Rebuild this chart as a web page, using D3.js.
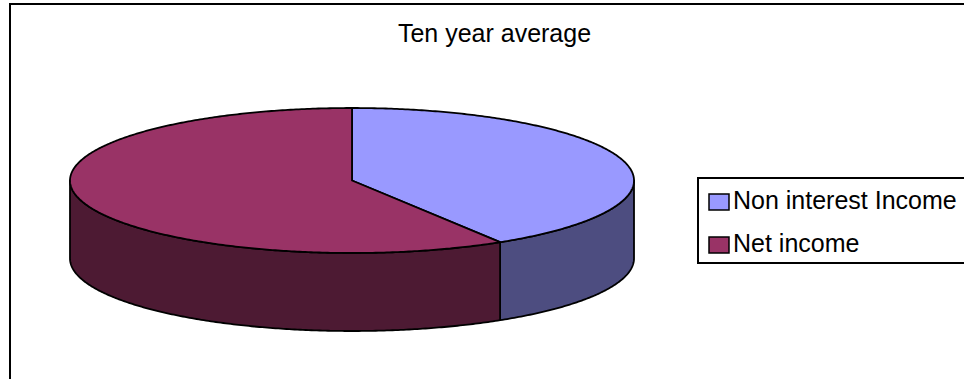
<!DOCTYPE html>
<html><head><meta charset="utf-8">
<script src="https://cdn.jsdelivr.net/npm/d3@7"></script>
<style>html,body{margin:0;padding:0;background:#fff;}svg{display:block;}</style>
</head><body>
<script>
const title = "Ten year average";
const categories = ["Non interest Income", "Net income"];
const values = [41.2, 58.8];
const topColors = ["#9999FF", "#993366"];
const sideColors = ["#4D4D80", "#4D1A33"];

const W = 964, H = 379;
const svg = d3.select("body").append("svg").attr("width", W).attr("height", H);
svg.append("rect").attr("width", W).attr("height", H).attr("fill", "#fff");

// outer frame (cropped at right/bottom)
svg.append("rect").attr("x", 10).attr("y", 4).attr("width", 1000).attr("height", 500)
  .attr("fill", "none").attr("stroke", "#000").attr("stroke-width", 2);

svg.append("text").attr("x", 494.5).attr("y", 42).attr("text-anchor", "middle")
  .attr("font-family", "Liberation Sans, Arial, sans-serif").attr("font-size", 25)
  .attr("fill", "#000").text(title);

const cx = 352, cy = 180.5, rx = 282, ry = 72.5, depth = 78;
const pie = d3.pie().sort(null).value(d => d)(values);
const pt = (a, dy = 0) => [cx + rx * Math.sin(a), cy - ry * Math.cos(a) + dy];
const line = d3.line();
const samples = (a0, a1) => {
  const n = Math.max(2, Math.ceil(Math.abs(a1 - a0) / 0.01));
  return d3.range(n + 1).map(i => a0 + (a1 - a0) * i / n);
};

const g = svg.append("g");
// side walls (visible front part: PI/2 .. 3PI/2)
pie.forEach((p, i) => {
  const a0 = Math.max(p.startAngle, Math.PI / 2);
  const a1 = Math.min(p.endAngle, 3 * Math.PI / 2);
  if (a1 <= a0) return;
  const s = samples(a0, a1);
  const pts = s.map(a => pt(a)).concat(s.slice().reverse().map(a => pt(a, depth)));
  g.append("path").attr("d", line(pts) + "Z")
    .attr("fill", sideColors[i]).attr("stroke", "#000").attr("stroke-width", 1.8)
    .attr("stroke-linejoin", "round");
});
// top faces
pie.forEach((p, i) => {
  const s = samples(p.startAngle, p.endAngle);
  const pts = [[cx, cy]].concat(s.map(a => pt(a)));
  g.append("path").attr("d", line(pts) + "Z")
    .attr("fill", topColors[i]).attr("stroke", "#000").attr("stroke-width", 1.8)
    .attr("stroke-linejoin", "round");
});

// legend
const lg = svg.append("g");
lg.append("rect").attr("x", 698).attr("y", 178).attr("width", 400).attr("height", 85)
  .attr("fill", "#fff").attr("stroke", "#000").attr("stroke-width", 2);
const rowY = [194, 237];
categories.forEach((c, i) => {
  lg.append("rect").attr("x", 709).attr("y", rowY[i]).attr("width", 20).attr("height", 16)
    .attr("fill", topColors[i]).attr("stroke", "#000").attr("stroke-width", 1.5);
  lg.append("text").attr("x", 733).attr("y", rowY[i] + 15)
    .attr("font-family", "Liberation Sans, Arial, sans-serif").attr("font-size", 25)
    .attr("fill", "#000").text(c);
});
</script>
</body></html>
